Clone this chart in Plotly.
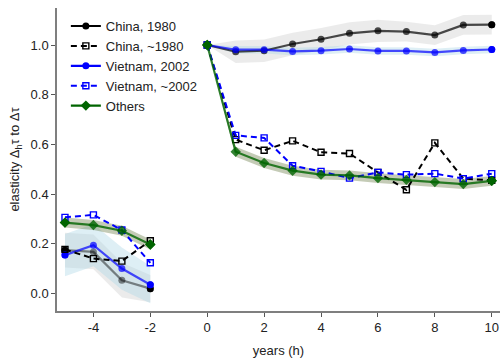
import plotly.graph_objects as go

# ---- data ----
h_pre = [-5, -4, -3, -2]
h_post = [0, 1, 2, 3, 4, 5, 6, 7, 8, 9, 10]

china80_pre = [0.174, 0.167, 0.053, 0.019]
china80_post = [1.0, 0.973, 0.977, 1.004, 1.023, 1.047, 1.057, 1.054, 1.040, 1.081, 1.082]
china80_pre_se = [0.07, 0.07, 0.07, 0.055]
china80_post_se = [0.0, 0.045, 0.045, 0.045, 0.045, 0.045, 0.045, 0.04, 0.04, 0.04, 0.04]

china80a_pre = [0.177, 0.140, 0.130, 0.212]
china80a_post = [1.0, 0.619, 0.576, 0.614, 0.568, 0.563, 0.487, 0.417, 0.606, 0.462, 0.455]

viet02_pre = [0.154, 0.194, 0.100, 0.035]
viet02_post = [1.0, 0.981, 0.981, 0.974, 0.977, 0.984, 0.976, 0.976, 0.970, 0.978, 0.982]
viet02_pre_se = [0.085, 0.085, 0.085, 0.075]
viet02_post_se = [0.0, 0.015, 0.015, 0.015, 0.015, 0.015, 0.015, 0.015, 0.015, 0.015, 0.015]

viet02a_pre = [0.306, 0.316, 0.255, 0.123]
viet02a_post = [1.0, 0.636, 0.626, 0.514, 0.491, 0.464, 0.487, 0.478, 0.482, 0.462, 0.482]

others_pre = [0.285, 0.275, 0.252, 0.197]
others_post = [1.0, 0.570, 0.525, 0.494, 0.478, 0.475, 0.464, 0.457, 0.448, 0.440, 0.453]
others_pre_se = [0.02, 0.02, 0.02, 0.02]
others_post_se = [0.0, 0.02, 0.02, 0.02, 0.02, 0.02, 0.02, 0.02, 0.02, 0.02, 0.02]

x_ticks = [-4, -2, 0, 2, 4, 6, 8, 10]
x_ticktext = ["-4", "-2", "0", "2", "4", "6", "8", "10"]
y_ticks = [0.0, 0.2, 0.4, 0.6, 0.8, 1.0]

names = ["China, 1980", "China, ~1980", "Vietnam, 2002", "Vietnam, ~2002", "Others"]

fig = go.Figure()


def band(x, y, se, color):
    up = [a + b for a, b in zip(y, se)]
    lo = [a - b for a, b in zip(y, se)]
    fig.add_trace(go.Scatter(x=list(x) + list(x)[::-1], y=up + lo[::-1], fill="toself",
                             fillcolor=color, line=dict(width=0), mode="lines",
                             hoverinfo="skip", showlegend=False))


# bands
band(h_pre, china80_pre, china80_pre_se, "rgba(0,0,0,0.08)")
band(h_post, china80_post, china80_post_se, "rgba(0,0,0,0.08)")
band(h_pre, viet02_pre, viet02_pre_se, "rgba(173,216,230,0.40)")
band(h_post, viet02_post, viet02_post_se, "rgba(173,216,230,0.40)")
band(h_pre, others_pre, others_pre_se, "rgba(85,107,47,0.35)")
band(h_post, others_post, others_post_se, "rgba(85,107,47,0.35)")


def solid(x, y, color, endcolor, symbol, size):
    fig.add_trace(go.Scatter(x=x, y=y, mode="lines+markers",
                             line=dict(color=color, width=2.2),
                             marker=dict(symbol=symbol, size=size, color=color),
                             showlegend=False, hoverinfo="skip"))
    fig.add_trace(go.Scatter(x=[x[0], x[-1]], y=[y[0], y[-1]], mode="markers",
                             marker=dict(symbol=symbol, size=size, color=endcolor),
                             showlegend=False, hoverinfo="skip"))


def dashed(x, y, color):
    fig.add_trace(go.Scatter(x=x, y=y, mode="lines+markers",
                             line=dict(color=color, width=2, dash="6px,4px"),
                             marker=dict(symbol="square-open", size=6, color=color,
                                         line=dict(width=1.4, color=color)),
                             showlegend=False, hoverinfo="skip"))


solid(h_pre, china80_pre, "rgba(0,0,0,0.45)", "black", "circle", 7)
solid(h_post, china80_post, "rgba(0,0,0,0.70)", "black", "circle", 7)
solid(h_pre, viet02_pre, "rgba(0,0,255,0.70)", "blue", "circle", 7)
solid(h_post, viet02_post, "rgba(0,0,255,0.70)", "blue", "circle", 7)
dashed(h_pre, china80a_pre, "black")
dashed(h_post, china80a_post, "black")
dashed(h_pre, viet02a_pre, "blue")
dashed(h_post, viet02a_post, "blue")
solid(h_pre, others_pre, "rgba(0,100,0,0.80)", "#006400", "diamond", 8)
solid(h_post, others_post, "rgba(0,100,0,0.80)", "#006400", "diamond", 8)

# legend entries
leg_styles = [
    dict(line=dict(color="black", width=2.2), marker=dict(symbol="circle", size=7, color="black")),
    dict(line=dict(color="black", width=2, dash="6px,4px"),
         marker=dict(symbol="square-open", size=6, color="black", line=dict(width=1.4, color="black"))),
    dict(line=dict(color="blue", width=2.2), marker=dict(symbol="circle", size=7, color="blue")),
    dict(line=dict(color="blue", width=2, dash="6px,4px"),
         marker=dict(symbol="square-open", size=6, color="blue", line=dict(width=1.4, color="blue"))),
    dict(line=dict(color="#006400", width=2.2), marker=dict(symbol="diamond", size=8, color="#006400")),
]
for i, (nm, st) in enumerate(zip(names, leg_styles)):
    fig.add_trace(go.Scatter(x=[None], y=[None], mode="lines+markers", name=nm,
                             legendrank=i + 1, **st))

axis_common = dict(showline=True, linecolor="#7f7f7f", linewidth=1.5, ticks="outside",
                   ticklen=4, tickwidth=1.2, tickcolor="#555", showgrid=False, zeroline=False,
                   tickfont=dict(size=13, color="#222"))

fig.update_layout(
    width=501, height=360,
    margin=dict(l=57, r=1, t=8, b=49),
    paper_bgcolor="white", plot_bgcolor="white",
    font=dict(family="Liberation Sans, Arial, sans-serif", size=13, color="#222"),
    showlegend=True,
    legend=dict(x=0.02, y=0.99, xanchor="left", yanchor="top", bgcolor="rgba(0,0,0,0)",
                font=dict(size=13, color="#222"), tracegroupgap=0, itemwidth=30),
    xaxis=dict(range=[-5.28, 10.29], tickvals=x_ticks, ticktext=x_ticktext,
               title=dict(text="years (h)", font=dict(size=13), standoff=12), **axis_common),
    yaxis=dict(range=[-0.071, 1.149], tickvals=y_ticks, tickformat=".1f",
               title=dict(text="elasticity Δ<sub>h</sub>τ to Δτ", font=dict(size=13), standoff=8),
               **axis_common),
)

fig.write_html("out.html", config={"displayModeBar": False},
               post_script="document.body.style.margin='0';")
